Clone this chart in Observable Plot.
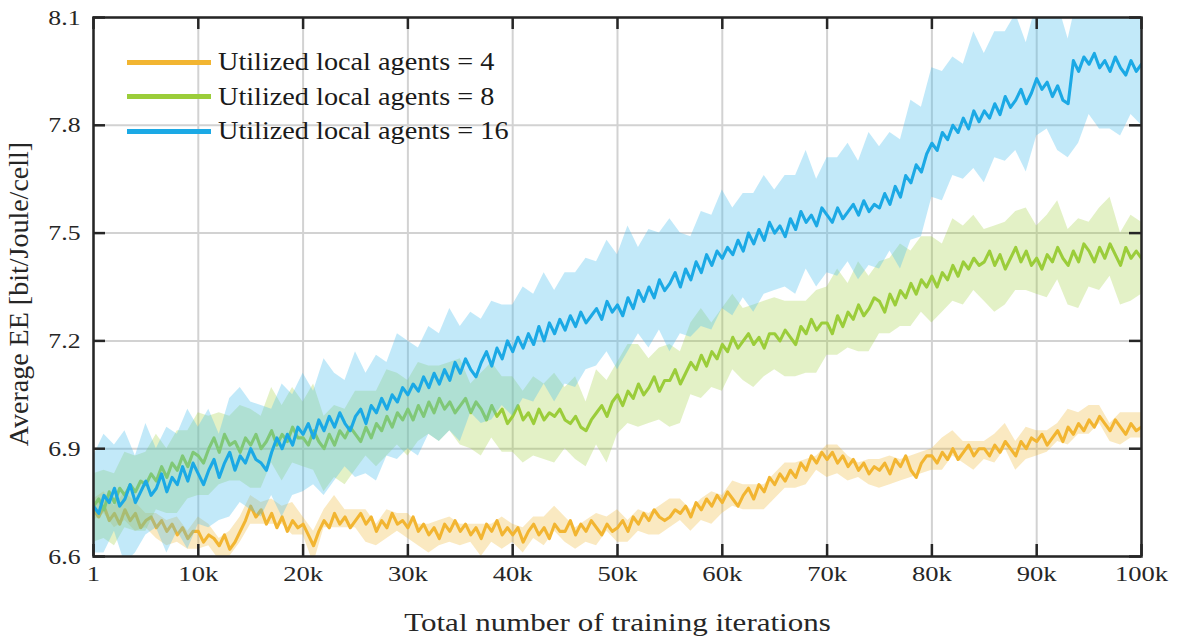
<!DOCTYPE html>
<html><head><meta charset="utf-8">
<script src="https://cdn.jsdelivr.net/npm/d3@7"></script>
<script src="https://cdn.jsdelivr.net/npm/@observablehq/plot@0.6"></script>
<style>
body{margin:0;background:#fff;}
#wrap{position:relative;width:1180px;height:640px;}
#legend{position:absolute;left:127px;top:45px;font-family:"Liberation Serif","Times New Roman",serif;font-size:25px;color:#1a1a1a;}
.row{display:flex;align-items:center;height:34.5px;white-space:nowrap;}
.sw{width:84px;height:5px;margin-right:7px;flex:none;}
.lt{display:inline-block;transform:scaleX(1.13);transform-origin:left center;}
</style></head><body><div id="wrap"><div id="legend"></div></div>
<script>
const seriesNames = ["Utilized local agents = 4","Utilized local agents = 8","Utilized local agents = 16"];
const lineColors = ["#F2B531","#9BCD3A","#1BA9E5"];
const bandColors = ["#EDB120","#9ACD32","#4DBEEE"];
const bandOpacity = [0.28, 0.28, 0.34];
const xTicks = [1,10000,20000,30000,40000,50000,60000,70000,80000,90000,100000];
const yTicks = [6.6,6.9,7.2,7.5,7.8,8.1];

// mean curves sampled every 500 iterations (201 points)
const agents4 = [
6.73,6.71,6.74,6.70,6.72,6.69,6.73,6.70,6.72,6.68,
6.70,6.71,6.68,6.70,6.67,6.69,6.66,6.68,6.65,6.67,
6.67,6.64,6.66,6.65,6.63,6.66,6.62,6.64,6.67,6.70,
6.74,6.71,6.73,6.69,6.72,6.68,6.71,6.67,6.70,6.68,
6.69,6.66,6.63,6.67,6.70,6.68,6.72,6.69,6.71,6.68,
6.70,6.72,6.69,6.71,6.67,6.70,6.68,6.72,6.69,6.70,
6.68,6.71,6.67,6.69,6.66,6.68,6.65,6.69,6.67,6.70,
6.67,6.69,6.66,6.68,6.65,6.69,6.67,6.70,6.66,6.68,
6.66,6.68,6.64,6.67,6.69,6.66,6.68,6.65,6.69,6.67,
6.67,6.70,6.66,6.69,6.67,6.70,6.68,6.66,6.69,6.67,
6.68,6.70,6.67,6.71,6.69,6.72,6.70,6.73,6.71,6.70,
6.71,6.73,6.72,6.74,6.71,6.75,6.73,6.76,6.74,6.77,
6.75,6.78,6.76,6.74,6.77,6.79,6.76,6.80,6.78,6.82,
6.80,6.83,6.81,6.84,6.82,6.86,6.84,6.88,6.86,6.89,
6.87,6.89,6.86,6.88,6.85,6.87,6.84,6.86,6.83,6.85,
6.84,6.86,6.83,6.87,6.85,6.88,6.84,6.82,6.86,6.88,
6.88,6.86,6.89,6.87,6.90,6.87,6.89,6.91,6.88,6.90,
6.90,6.88,6.91,6.89,6.92,6.90,6.88,6.92,6.90,6.93,
6.92,6.94,6.91,6.93,6.95,6.92,6.96,6.94,6.97,6.95,
6.98,6.96,6.99,6.97,6.95,6.98,6.96,6.94,6.97,6.95,
6.96];
const agents8 = [
6.74,6.76,6.73,6.78,6.75,6.79,6.77,6.80,6.78,6.81,
6.80,6.83,6.81,6.85,6.82,6.86,6.84,6.88,6.85,6.89,
6.88,6.86,6.90,6.93,6.89,6.94,6.91,6.92,6.89,6.93,
6.91,6.94,6.90,6.92,6.95,6.91,6.94,6.92,6.96,6.93,
6.93,6.91,6.95,6.92,6.90,6.94,6.91,6.95,6.93,6.96,
6.94,6.92,6.96,6.93,6.97,6.95,6.99,6.96,7.00,6.98,
7.01,6.98,7.02,6.99,7.03,7.00,7.04,7.01,7.03,7.00,
7.02,7.04,7.00,7.03,7.01,6.98,7.02,6.99,7.01,6.97,
6.99,7.02,6.98,7.00,6.97,7.01,6.98,7.00,6.99,7.01,
6.98,6.97,6.99,6.96,6.95,6.98,7.00,7.02,6.99,7.03,
7.05,7.02,7.06,7.04,7.08,7.05,7.07,7.10,7.06,7.09,
7.09,7.12,7.08,7.11,7.14,7.12,7.16,7.13,7.17,7.15,
7.19,7.17,7.21,7.18,7.20,7.22,7.19,7.21,7.18,7.22,
7.22,7.20,7.23,7.21,7.19,7.24,7.22,7.26,7.23,7.25,
7.25,7.22,7.27,7.24,7.28,7.26,7.30,7.27,7.29,7.32,
7.31,7.28,7.33,7.30,7.34,7.32,7.36,7.33,7.37,7.35,
7.38,7.35,7.39,7.37,7.41,7.38,7.42,7.40,7.43,7.41,
7.42,7.45,7.41,7.44,7.40,7.43,7.46,7.42,7.45,7.41,
7.43,7.40,7.44,7.42,7.46,7.43,7.41,7.45,7.42,7.47,
7.45,7.42,7.46,7.43,7.47,7.44,7.41,7.46,7.43,7.45,
7.43];
const agents16 = [
6.74,6.72,6.77,6.75,6.79,6.74,6.76,6.80,6.75,6.78,
6.81,6.77,6.79,6.83,6.78,6.82,6.80,6.85,6.81,6.86,
6.83,6.80,6.84,6.87,6.82,6.86,6.89,6.84,6.88,6.86,
6.90,6.87,6.86,6.84,6.89,6.93,6.90,6.94,6.91,6.96,
6.94,6.97,6.93,6.98,6.95,6.99,6.96,7.00,6.97,6.95,
6.99,7.01,6.97,7.02,7.00,7.04,7.01,7.05,7.03,7.07,
7.05,7.08,7.06,7.10,7.07,7.11,7.08,7.12,7.09,7.14,
7.11,7.15,7.12,7.10,7.14,7.17,7.13,7.18,7.15,7.20,
7.17,7.21,7.18,7.22,7.19,7.24,7.20,7.25,7.22,7.26,
7.23,7.27,7.24,7.28,7.25,7.27,7.29,7.26,7.31,7.28,
7.30,7.27,7.32,7.29,7.34,7.31,7.35,7.32,7.37,7.34,
7.36,7.39,7.35,7.40,7.37,7.42,7.39,7.44,7.41,7.45,
7.43,7.46,7.44,7.48,7.45,7.50,7.47,7.51,7.48,7.53,
7.50,7.52,7.49,7.54,7.51,7.56,7.53,7.55,7.52,7.57,
7.55,7.53,7.57,7.54,7.56,7.58,7.55,7.59,7.56,7.58,
7.57,7.61,7.58,7.63,7.60,7.66,7.64,7.69,7.67,7.72,
7.75,7.73,7.78,7.76,7.80,7.78,7.82,7.79,7.84,7.81,
7.84,7.82,7.86,7.83,7.88,7.85,7.87,7.90,7.86,7.89,
7.93,7.90,7.92,7.88,7.91,7.87,7.86,7.98,7.95,7.99,
7.97,8.00,7.96,7.98,7.95,7.99,7.96,7.94,7.98,7.95,
7.97];

// shaded band spread above / below the mean, sampled every 1000 iterations (101 points)
const hi4 = [.03,.04,.02,.05,.03,.02,.04,.03,.05,.02,.04,.03,.02,.05,.04,.03,.02,.04,.03,.05,.02,.04,.03,.05,.02,.03,.04,.02,.05,.03,.04,.02,.03,.05,.04,.02,.03,.04,.02,.05,.03,.04,.02,.03,.05,.04,.02,.03,.04,.02,.05,.03,.04,.02,.03,.05,.04,.02,.03,.04,.02,.05,.03,.04,.02,.03,.05,.04,.03,.02,.04,.05,.03,.02,.04,.03,.05,.02,.04,.03,.02,.04,.05,.03,.04,.02,.03,.05,.04,.06,.03,.04,.02,.05,.03,.04,.03,.02,.04,.03,.04];
const lo4 = [.03,.02,.04,.03,.05,.02,.03,.04,.02,.03,.05,.03,.04,.02,.03,.05,.04,.03,.02,.04,.03,.05,.02,.04,.03,.02,.05,.04,.03,.02,.03,.04,.05,.02,.03,.04,.02,.05,.03,.04,.02,.03,.04,.05,.02,.03,.04,.03,.05,.02,.04,.03,.02,.04,.05,.03,.02,.04,.03,.05,.03,.02,.04,.03,.05,.04,.02,.03,.04,.02,.05,.03,.04,.02,.03,.05,.03,.04,.02,.03,.04,.05,.02,.03,.04,.03,.05,.02,.04,.03,.04,.02,.03,.05,.03,.04,.02,.03,.05,.04,.03];
const hi8 = [.09,.11,.08,.12,.10,.09,.13,.08,.11,.10,.12,.09,.11,.08,.13,.10,.09,.12,.08,.11,.10,.13,.09,.11,.08,.12,.10,.09,.13,.11,.08,.12,.10,.09,.11,.13,.08,.10,.12,.09,.11,.08,.13,.10,.12,.09,.11,.08,.12,.10,.09,.13,.11,.08,.12,.10,.09,.11,.13,.08,.10,.12,.09,.11,.13,.10,.08,.12,.09,.11,.10,.13,.08,.12,.09,.11,.10,.13,.09,.12,.11,.08,.13,.10,.12,.09,.11,.13,.10,.12,.09,.11,.13,.10,.12,.08,.11,.13,.09,.12,.10];
const lo8 = [.10,.08,.12,.09,.11,.13,.08,.10,.12,.09,.11,.13,.09,.10,.08,.12,.11,.09,.13,.10,.08,.11,.12,.09,.13,.10,.08,.12,.11,.09,.13,.10,.09,.12,.08,.11,.10,.13,.09,.12,.10,.12,.09,.11,.13,.08,.12,.10,.09,.13,.11,.09,.12,.10,.08,.13,.11,.09,.12,.10,.13,.09,.11,.12,.08,.10,.13,.09,.11,.12,.09,.11,.10,.13,.12,.09,.11,.10,.12,.09,.13,.11,.10,.12,.09,.11,.13,.10,.12,.11,.10,.12,.09,.11,.13,.10,.12,.09,.11,.12,.10];
const hi16 = [.14,.17,.12,.19,.13,.16,.11,.18,.14,.20,.13,.17,.12,.15,.19,.13,.16,.12,.18,.14,.17,.13,.20,.15,.12,.18,.14,.16,.13,.19,.15,.12,.17,.14,.20,.13,.16,.12,.18,.15,.13,.17,.14,.19,.12,.16,.15,.18,.13,.17,.14,.20,.12,.16,.13,.18,.15,.12,.17,.14,.19,.13,.16,.14,.18,.12,.17,.15,.20,.13,.16,.14,.19,.15,.22,.17,.20,.16,.23,.18,.21,.17,.19,.15,.22,.16,.20,.18,.24,.17,.21,.19,.23,.18,.22,.17,.20,.19,.24,.18,.21];
const lo16 = [.13,.16,.12,.18,.14,.15,.11,.17,.13,.19,.14,.16,.12,.18,.13,.17,.15,.12,.19,.14,.16,.13,.18,.15,.12,.17,.14,.19,.13,.16,.15,.18,.13,.16,.14,.19,.12,.17,.15,.13,.18,.14,.16,.12,.19,.15,.17,.13,.16,.14,.18,.15,.12,.17,.14,.19,.13,.16,.15,.18,.14,.17,.13,.19,.15,.16,.14,.18,.13,.17,.16,.19,.14,.18,.15,.17,.13,.20,.16,.18,.15,.19,.14,.17,.16,.20,.15,.18,.14,.19,.16,.13,.18,.15,.20,.14,.17,.16,.19,.15,.17];

const means = [agents4, agents8, agents16];
const his = [hi4, hi8, hi16];
const los = [lo4, lo8, lo16];
const lineIter = d3.range(201).map(i => i === 0 ? 1 : i * 500);
const bandIter = d3.range(101).map(i => i === 0 ? 1 : i * 1000);

const W = 1180, H = 640, mL = 93, mR = 39, mT = 17, mB = 84;
const innerW = W - mL - mR, innerH = H - mT - mB;
const ink = "#262626";

const seriesMarks = [];
means.forEach((m, s) => {
  const line = m.map((v, i) => ({x: lineIter[i], y: v}));
  const band = bandIter.map((x, i) => ({x, lo: m[2 * i] - los[s][i], hi: m[2 * i] + his[s][i]}));
  seriesMarks.push(Plot.areaY(band, {x: "x", y1: "lo", y2: "hi", fill: bandColors[s], fillOpacity: bandOpacity[s], clip: true}));
  seriesMarks.push(Plot.lineY(line, {x: "x", y: "y", stroke: lineColors[s], strokeWidth: 3.1, clip: true}));
});

const chart = Plot.plot({
  width: W, height: H, marginLeft: mL, marginRight: mR, marginTop: mT, marginBottom: mB,
  style: {fontFamily: "'Liberation Serif', 'Times New Roman', serif", fontSize: "22px", color: ink, background: "white"},
  x: {domain: [1, 100000]},
  y: {domain: [6.6, 8.1]},
  marks: [
    Plot.gridX(xTicks, {stroke: "#d2d2d2", strokeOpacity: 1, strokeWidth: 2}),
    Plot.gridY(yTicks, {stroke: "#d2d2d2", strokeOpacity: 1, strokeWidth: 2}),
    ...seriesMarks,
    Plot.tickX(xTicks, {x: d => d, insetTop: innerH - 12, stroke: ink, strokeWidth: 2.5}),
    Plot.tickX(xTicks, {x: d => d, insetBottom: innerH - 12, stroke: ink, strokeWidth: 2.5}),
    Plot.tickY(yTicks, {y: d => d, insetRight: innerW - 12, stroke: ink, strokeWidth: 2.5}),
    Plot.tickY(yTicks, {y: d => d, insetLeft: innerW - 12, stroke: ink, strokeWidth: 2.5}),
    Plot.frame({stroke: ink, strokeWidth: 2.5}),
    Plot.axisX(xTicks, {tickSize: 0, tickPadding: 9, tickFormat: d => d === 1 ? "1" : (d / 1000) + "k", label: null, fontSize: 22, fill: ink}),
    Plot.axisX([], {tickSize: 0, label: "Total number of training iterations", labelAnchor: "center", labelOffset: 74, labelArrow: "none", fontSize: 25, fill: ink}),
    Plot.axisY(yTicks, {tickSize: 0, tickPadding: 13, tickFormat: d3.format(".1f"), label: null, fontSize: 22, fill: ink}),
    Plot.axisY([], {tickSize: 0, label: "Average EE [bit/Joule/cell]", labelAnchor: "center", labelOffset: 85, labelArrow: "none", fontSize: 28, fill: ink})
  ]
});
document.getElementById("wrap").prepend(chart);

// the reference typesetting is horizontally widened; widen the horizontal texts about their anchors
function widen(selector, sx, anchor) {
  const box = chart.getBoundingClientRect();
  chart.querySelectorAll(selector).forEach(t => {
    const r = t.getBoundingClientRect();
    const ax = (anchor === "middle" ? r.x + r.width / 2 : anchor === "end" ? r.x + r.width : r.x) - box.x;
    const parent = t.parentNode;
    const m = parent.getCTM();
    const lx = m ? (ax - m.e) / m.a : ax;
    const g = document.createElementNS("http://www.w3.org/2000/svg", "g");
    parent.insertBefore(g, t);
    g.appendChild(t);
    g.setAttribute("transform", `translate(${lx},0) scale(${sx},1) translate(${-lx},0)`);
  });
}
widen('g[aria-label="x-axis tick label"] text', 1.21, "middle");
widen('g[aria-label="y-axis tick label"] text', 1.17, "end");
widen('g[aria-label="x-axis label"] text', 1.24, "middle");
// nudge the rotated y label slightly down, as in the reference
chart.querySelectorAll('g[aria-label="y-axis label"] text').forEach(t => {
  const g = document.createElementNS("http://www.w3.org/2000/svg", "g");
  t.parentNode.insertBefore(g, t);
  g.appendChild(t);
  g.setAttribute("transform", "translate(0,7)");
});

const legend = document.getElementById("legend");
seriesNames.forEach((name, s) => {
  const row = document.createElement("div");
  row.className = "row";
  const sw = document.createElement("div");
  sw.className = "sw";
  sw.style.background = lineColors[s];
  const t = document.createElement("span");
  t.className = "lt";
  t.textContent = name;
  row.append(sw, t);
  legend.append(row);
});
</script>
</body></html>
